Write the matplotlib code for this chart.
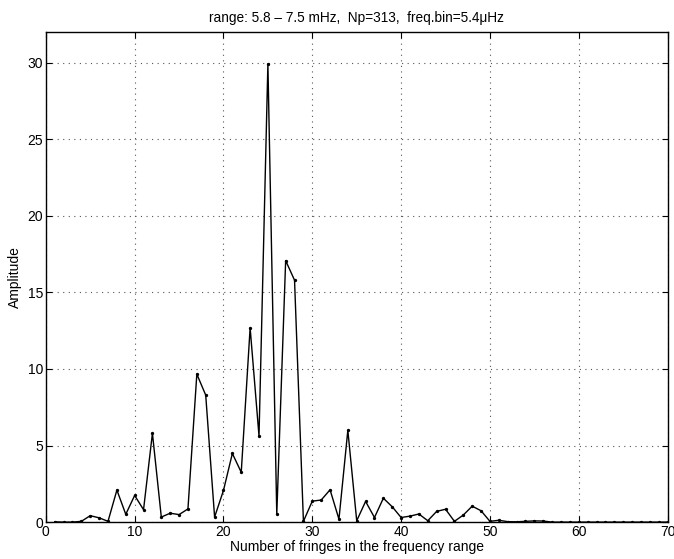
import numpy as np
import matplotlib.pyplot as plt

plt.rcParams['font.family'] = ['Liberation Sans', 'DejaVu Sans']

# fringe number and amplitude of the spectrum
fringes = np.arange(1, 71)
amplitude = [
    0.02, 0.0, 0.0, 0.05, 0.42, 0.28, 0.05, 2.09, 0.51, 1.74,
    0.81, 5.80, 0.33, 0.58, 0.49, 0.86, 9.66, 8.29, 0.33, 2.07,
    4.48, 3.25, 12.68, 5.62, 29.9, 0.51, 17.07, 15.79, 0.05, 1.37,
    1.44, 2.11, 0.19, 5.99, 0.09, 1.35, 0.30, 1.56, 1.00, 0.30,
    0.39, 0.53, 0.09, 0.70, 0.84, 0.05, 0.46, 1.04, 0.74, 0.05,
    0.12, 0.03, 0.02, 0.05, 0.08, 0.07, 0.0, 0.0, 0.0, 0.0,
    0.0, 0.0, 0.0, 0.0, 0.0, 0.0, 0.0, 0.0, 0.0, 0.0,
]
x_ticks = [0, 10, 20, 30, 40, 50, 60, 70]
y_ticks = [0, 5, 10, 15, 20, 25, 30]

fig = plt.figure(figsize=(6.74, 5.59), dpi=100)
ax = fig.add_axes([0.068, 0.066, 0.9225, 0.877])

ax.plot(fringes, amplitude, color='black', linewidth=1.0,
        marker='o', markersize=2.4, markerfacecolor='black', markeredgewidth=0)

ax.set_xlim(0, 70)
ax.set_ylim(0, 32)
ax.set_xticks(x_ticks)
ax.set_yticks(y_ticks)
ax.grid(True, linestyle=(0, (1, 4)), color='#555555', linewidth=0.8)
ax.tick_params(direction='in', top=True, right=True, labelsize=10, length=4, pad=2)
for s in ax.spines.values():
    s.set_linewidth(1.0)

ax.set_xlabel('Number of fringes in the frequency range', fontsize=10, labelpad=1)
ax.set_ylabel('Amplitude', fontsize=10, labelpad=4)
ax.set_title('range: 5.8 – 7.5 mHz,  Np=313,  freq.bin=5.4\u03bcHz', fontsize=9.8, pad=7)

fig.savefig('out.png', dpi=100)
